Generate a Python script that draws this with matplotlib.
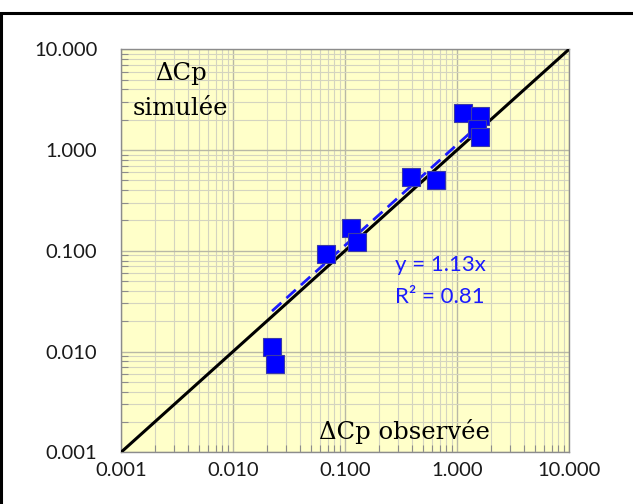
import matplotlib
matplotlib.use("Agg")
import matplotlib.pyplot as plt
import matplotlib.ticker as mticker
from matplotlib.patches import Rectangle
import numpy as np

# Data
obs = [0.0677, 0.114, 0.127, 0.388, 0.656, 1.13, 1.60, 1.51, 1.60, 0.0223, 0.0235]
sim = [0.094, 0.170, 0.122, 0.540, 0.504, 2.33, 2.18, 1.62, 1.35, 0.0110, 0.0076]
slope = 1.13
r2 = 0.81
tick_vals = [0.001, 0.01, 0.1, 1, 10]
tick_labels = ["0.001", "0.010", "0.100", "1.000", "10.000"]

fig = plt.figure(figsize=(6.33, 5.04), dpi=100)
fig.patch.set_facecolor("white")
# figure frame (top and left visible)
fig.patches.append(Rectangle((0.0008, -0.2), 1.2, 1.2 - 13/504, transform=fig.transFigure,
                             fill=False, edgecolor="black", linewidth=2.2, zorder=10))

ax = fig.add_axes([121/633, 51.7/504, 448/633, 403/504])
ax.set_facecolor("#FFFFC9")
ax.set_xscale("log")
ax.set_yscale("log")
ax.set_xlim(0.001, 10)
ax.set_ylim(0.001, 10)

ax.grid(True, which="major", color="#b8b8a6", linewidth=1.0, zorder=0)
ax.grid(True, which="minor", color="#d4d4c0", linewidth=0.8, zorder=0)
ax.set_axisbelow(True)

for s in ax.spines.values():
    s.set_color("#8c8c8c")
    s.set_linewidth(1.0)

ax.xaxis.set_major_locator(mticker.FixedLocator(tick_vals))
ax.yaxis.set_major_locator(mticker.FixedLocator(tick_vals))
ax.xaxis.set_major_formatter(mticker.FixedFormatter(tick_labels))
ax.yaxis.set_major_formatter(mticker.FixedFormatter(tick_labels))
ax.xaxis.set_minor_locator(mticker.LogLocator(base=10, subs=np.arange(2, 10)))
ax.yaxis.set_minor_locator(mticker.LogLocator(base=10, subs=np.arange(2, 10)))
ax.xaxis.set_minor_formatter(mticker.NullFormatter())
ax.yaxis.set_minor_formatter(mticker.NullFormatter())
ax.tick_params(which="major", direction="in", length=0, labelsize=14.5, colors="#8c8c8c",
               labelcolor="#1a1a1a")
ax.tick_params(axis="x", which="major", pad=7)
ax.tick_params(axis="y", which="major", pad=17)
ax.tick_params(which="minor", direction="in", length=5, width=0.8, colors="#8c8c8c")
for lab in ax.get_xticklabels() + ax.get_yticklabels():
    lab.set_fontfamily("Lato")

# 1:1 line
ax.plot([0.001, 10], [0.001, 10], color="black", linewidth=2.2, zorder=3)

# trend line
xt = np.array([min(obs), max(obs)])
ax.plot(xt, slope * xt, color="#1a1aff", linestyle=(0, (4.5, 2.5)), linewidth=2.0, zorder=4)

# points
ax.plot(obs, sim, linestyle="none", marker="s", markersize=13.5, markerfacecolor="#0000ff",
        markeredgecolor="#3a3aa8", markeredgewidth=0.8, zorder=5)

ax.text(0.0034, 5.8, "ΔCp", fontsize=17.5, family="DejaVu Serif", ha="center",
        va="center", color="black")
ax.text(0.0034, 2.6, "simulée", fontsize=17.5, family="DejaVu Serif", ha="center",
        va="center", color="black")
ax.text(0.34, 0.0016, "ΔCp observée", fontsize=17.5, family="DejaVu Serif", ha="center",
        va="center", color="black")

ax.text(0.279, 0.0723, f"y = {slope:.2f}x", fontsize=16, family="Lato", color="#1a1aff",
        ha="left", va="center")
ax.text(0.279, 0.0348, f"R² = {r2:.2f}", fontsize=16, family="Lato", color="#1a1aff",
        ha="left", va="center")

fig.savefig("out.png", dpi=100)
